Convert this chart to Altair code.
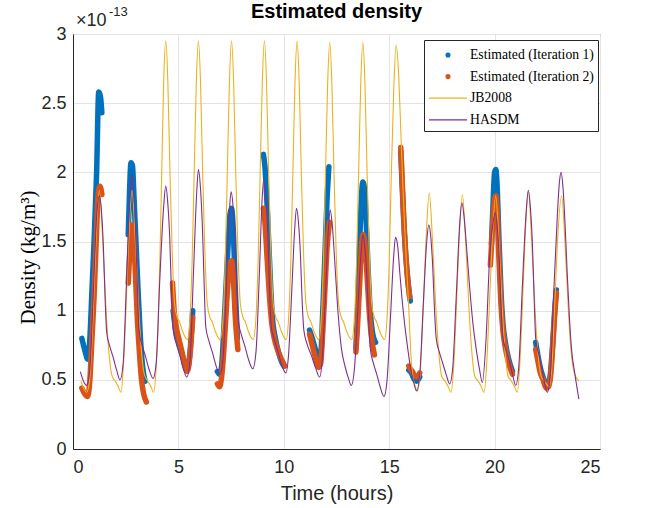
import altair as alt
import pandas as pd

SERIES = ["Estimated (Iteration 1)", "Estimated (Iteration 2)", "JB2008", "HASDM"]
COLORS = ["#0072BD", "#D95319", "#EDB120", "#7E2F8E"]

x_ticks = [0, 5, 10, 15, 20, 25]
y_ticks = [0, 0.5, 1, 1.5, 2, 2.5, 3]

# JB2008 model density (units of 1e-13 kg/m^3)
jb_t = [0.38, 0.5, 0.65, 0.74, 0.84, 0.96, 1.09, 1.25, 1.41, 1.57, 1.69, 1.85, 1.96, 2.12, 2.28,
        2.39, 2.51, 2.64, 2.8, 2.96, 3.12, 3.24, 3.4, 3.51, 3.67, 3.83,
        3.95, 4.05, 4.12, 4.21, 4.3, 4.4, 4.5, 4.6, 4.7, 4.82, 4.95, 5.05, 5.2, 5.43,
        5.55, 5.65, 5.75, 5.85, 5.95, 6.05, 6.15, 6.25, 6.37, 6.5, 6.6, 6.75, 6.98,
        7.12, 7.22, 7.32, 7.42, 7.52, 7.62, 7.72, 7.82, 7.94, 8.07, 8.17, 8.32, 8.55,
        8.68, 8.78, 8.88, 8.98, 9.08, 9.18, 9.28, 9.38, 9.5, 9.63, 9.73, 9.88, 10.11,
        10.23, 10.33, 10.43, 10.53, 10.63, 10.73, 10.83, 10.93, 11.05, 11.18, 11.28, 11.43, 11.66,
        11.78, 11.88, 11.98, 12.08, 12.18, 12.28, 12.38, 12.48, 12.6, 12.73, 12.83, 12.98, 13.22,
        13.35, 13.45, 13.55, 13.65, 13.75, 13.85, 13.95, 14.05, 14.17, 14.3, 14.4, 14.55, 14.78,
        14.9, 15.0, 15.1, 15.22, 15.33, 15.45, 15.55, 15.65, 15.75, 15.85, 15.95, 16.02, 16.1, 16.22, 16.35,
        16.49, 16.61, 16.74, 16.9, 17.06, 17.22, 17.34, 17.5, 17.61, 17.77, 17.93,
        18.06, 18.18, 18.31, 18.47, 18.63, 18.79, 18.91, 19.07, 19.18, 19.34, 19.5,
        19.62, 19.74, 19.88, 20.05, 20.21, 20.37, 20.49, 20.65, 20.76, 20.92, 21.08,
        21.19, 21.31, 21.44, 21.6, 21.76, 21.92, 22.04, 22.2, 22.31, 22.45, 22.6,
        22.72, 22.84, 22.98, 23.18, 23.34, 23.5, 23.62, 23.78, 24.0]
jb_v = [0.49, 0.44, 0.41, 0.45, 0.6, 1.0, 1.49, 1.87, 1.5, 1.0, 0.72, 0.53, 0.5, 0.46, 0.41,
        0.6, 1.0, 1.5, 1.87, 1.5, 1.0, 0.72, 0.53, 0.5, 0.46, 0.41,
        0.6, 0.95, 1.35, 2.0, 2.65, 2.95, 2.65, 2.0, 1.45, 1.05, 0.95, 0.92, 0.85, 0.79,
        0.95, 1.35, 2.0, 2.65, 2.95, 2.65, 2.0, 1.45, 1.05, 0.95, 0.92, 0.85, 0.79,
        0.95, 1.35, 2.0, 2.65, 2.95, 2.65, 2.0, 1.45, 1.05, 0.95, 0.92, 0.85, 0.79,
        0.95, 1.35, 2.0, 2.65, 2.95, 2.65, 2.0, 1.45, 1.05, 0.95, 0.92, 0.85, 0.79,
        0.95, 1.35, 2.0, 2.65, 2.95, 2.65, 2.0, 1.45, 1.05, 0.95, 0.92, 0.85, 0.79,
        0.95, 1.35, 2.0, 2.64, 2.94, 2.64, 2.0, 1.45, 1.05, 0.95, 0.92, 0.85, 0.79,
        0.95, 1.35, 2.0, 2.64, 2.94, 2.64, 2.0, 1.45, 1.05, 0.95, 0.92, 0.85, 0.79,
        0.95, 1.35, 1.98, 2.62, 2.92, 2.7, 2.3, 1.9, 1.55, 1.25, 0.95, 0.7, 0.55, 0.46, 0.42,
        0.6, 1.0, 1.49, 1.85, 1.49, 1.0, 0.72, 0.52, 0.5, 0.46, 0.41,
        0.6, 1.0, 1.49, 1.84, 1.49, 1.0, 0.72, 0.52, 0.5, 0.46, 0.41,
        0.6, 1.0, 1.49, 1.83, 1.49, 1.0, 0.72, 0.52, 0.5, 0.46, 0.41,
        0.6, 1.0, 1.5, 1.86, 1.5, 1.0, 0.72, 0.53, 0.5, 0.47, 0.45,
        0.6, 1.0, 1.49, 1.83, 1.49, 1.0, 0.72, 0.55, 0.49]

# HASDM density
hasdm_t = [0.35, 0.5, 0.65, 0.8, 0.96, 1.12, 1.25, 1.35, 1.44, 1.52, 1.6, 1.75, 1.91, 2.07, 2.23,
           2.38, 2.54, 2.7, 2.78, 2.88, 2.97, 3.05, 3.13, 3.28, 3.44, 3.6, 3.8,
           3.95, 4.11, 4.3, 4.4, 4.5, 4.59, 4.67, 4.75, 4.9, 5.06, 5.22, 5.4,
           5.55, 5.71, 5.87, 5.95, 6.05, 6.14, 6.22, 6.3, 6.45, 6.61, 6.77, 6.97,
           7.12, 7.28, 7.42, 7.5, 7.6, 7.69, 7.77, 7.85, 8.0, 8.16, 8.32, 8.53,
           8.68, 8.84, 8.97, 9.05, 9.15, 9.24, 9.32, 9.4, 9.55, 9.71, 9.87, 10.1,
           10.22, 10.38, 10.52, 10.6, 10.7, 10.79, 10.87, 10.95, 11.1, 11.3, 11.5, 11.7,
           11.82, 11.98, 12.12, 12.2, 12.3, 12.42, 12.57, 12.74, 12.9, 13.05, 13.2,
           13.35, 13.51, 13.67, 13.75, 13.85, 13.94, 14.02, 14.1, 14.25, 14.41, 14.57, 14.75,
           14.9, 15.06, 15.22, 15.3, 15.4, 15.5, 15.6, 15.72, 15.85, 16.0, 16.15, 16.3,
           16.45, 16.61, 16.78, 16.88, 16.98, 17.07, 17.15, 17.23, 17.38, 17.54, 17.7, 17.87,
           18.02, 18.18, 18.35, 18.45, 18.55, 18.65, 18.8, 18.97, 19.13, 19.29, 19.42,
           19.6, 19.76, 19.93, 20.03, 20.13, 20.22, 20.3, 20.38, 20.53, 20.69, 20.85, 21.0,
           21.15, 21.31, 21.5, 21.6, 21.7, 21.79, 21.87, 21.95, 22.1, 22.25, 22.38, 22.5,
           22.65, 22.81, 22.98, 23.07, 23.15, 23.25, 23.35, 23.45, 23.55, 23.65, 23.8, 24.0]
hasdm_v = [0.56, 0.49, 0.46, 0.58, 1.12, 1.68, 1.83, 1.72, 1.47, 1.1, 0.84, 0.74, 0.66, 0.57, 0.5,
           0.62, 1.22, 1.83, 1.98, 1.85, 1.58, 1.19, 0.86, 0.75, 0.67, 0.58, 0.51,
           0.63, 1.2, 1.75, 1.9, 1.77, 1.52, 1.14, 0.86, 0.76, 0.68, 0.59, 0.52,
           0.64, 1.25, 1.86, 2.02, 1.88, 1.6, 1.2, 0.88, 0.78, 0.7, 0.61, 0.54,
           0.66, 1.2, 1.72, 1.86, 1.74, 1.5, 1.14, 0.92, 0.82, 0.74, 0.65, 0.58,
           0.7, 1.26, 1.8, 1.95, 1.82, 1.56, 1.18, 0.89, 0.79, 0.71, 0.62, 0.55,
           0.67, 1.15, 1.6, 1.74, 1.63, 1.4, 1.07, 0.86, 0.76, 0.68, 0.59, 0.52,
           0.64, 1.12, 1.6, 1.73, 1.62, 1.35, 0.99, 0.72, 0.6, 0.52, 0.46,
           0.58, 1.0, 1.43, 1.55, 1.45, 1.25, 0.95, 0.73, 0.62, 0.54, 0.45, 0.38,
           0.5, 0.95, 1.41, 1.53, 1.47, 1.28, 1.1, 0.92, 0.76, 0.6, 0.49, 0.42,
           0.54, 1.02, 1.5, 1.62, 1.52, 1.3, 1.0, 0.8, 0.7, 0.62, 0.54, 0.47,
           0.6, 1.1, 1.64, 1.78, 1.68, 1.5, 1.2, 0.91, 0.72, 0.57, 0.48,
           0.81, 1.37, 1.64, 1.71, 1.6, 1.38, 1.05, 0.82, 0.72, 0.64, 0.54, 0.46,
           0.6, 1.15, 1.72, 1.87, 1.74, 1.5, 1.12, 0.8, 0.68, 0.57, 0.47, 0.41,
           0.55, 1.15, 1.7, 1.92, 2.0, 1.88, 1.6, 1.25, 0.95, 0.72, 0.55, 0.36]

# Estimated density, iteration 1 (one list per pass)
est1_t = [[0.42, 0.55, 0.7, 0.8, 0.9, 1.0, 1.12, 1.22, 1.3, 1.37],
          [2.62, 2.68, 2.75, 2.82, 2.9, 3.0, 3.1, 3.2, 3.3, 3.42],
          [4.75, 4.85, 5.0, 5.15, 5.3, 5.42, 5.55, 5.68],
          [6.85, 6.95, 7.05, 7.15, 7.25, 7.35, 7.45, 7.52, 7.6, 7.7, 7.8],
          [9.03, 9.1, 9.18, 9.27, 9.37, 9.45, 9.6, 9.75, 9.9, 10.0],
          [11.22, 11.35, 11.5, 11.65, 11.75, 11.85, 11.95, 12.05, 12.14],
          [13.42, 13.5, 13.58, 13.66, 13.75, 13.83, 13.92, 14.0, 14.1, 14.2, 14.35],
          [15.55, 15.6, 15.7, 15.8, 15.9, 16.0],
          [15.93, 16.05, 16.2, 16.3, 16.45],
          [19.85, 19.92, 20.0, 20.06, 20.12, 20.2, 20.3, 20.4, 20.5, 20.65, 20.85],
          [21.95, 22.05, 22.15, 22.3, 22.45, 22.55, 22.65, 22.75, 22.85, 22.93]]
est1_v = [[0.80, 0.72, 0.65, 0.8, 1.15, 1.5, 2.0, 2.58, 2.55, 2.43],
          [1.55, 1.85, 2.07, 2.05, 1.8, 1.45, 1.1, 0.8, 0.6, 0.49],
          [1.0, 0.88, 0.78, 0.7, 0.62, 0.57, 0.7, 1.0],
          [0.56, 0.54, 0.6, 0.85, 1.15, 1.45, 1.7, 1.74, 1.6, 1.15, 0.8],
          [2.13, 2.05, 1.85, 1.55, 1.2, 0.97, 0.8, 0.7, 0.63, 0.6],
          [0.86, 0.8, 0.72, 0.65, 0.68, 1.0, 1.4, 1.8, 2.04],
          [0.73, 1.0, 1.4, 1.75, 1.93, 1.88, 1.6, 1.3, 1.0, 0.85, 0.77],
          [2.15, 1.95, 1.62, 1.37, 1.2, 1.07],
          [0.57, 0.55, 0.5, 0.49, 0.52],
          [1.48, 1.75, 2.0, 2.02, 1.9, 1.55, 1.15, 0.9, 0.78, 0.66, 0.56],
          [0.77, 0.68, 0.6, 0.52, 0.47, 0.46, 0.55, 0.75, 1.0, 1.15]]

# Estimated density, iteration 2
est2_t = [[0.42, 0.55, 0.7, 0.8, 0.9, 1.0, 1.1, 1.2, 1.28, 1.37],
          [2.62, 2.7, 2.78, 2.85, 2.95, 3.05, 3.15, 3.25, 3.35, 3.48],
          [4.72, 4.8, 4.9, 5.05, 5.2, 5.3, 5.42, 5.55, 5.68],
          [6.85, 6.95, 7.05, 7.15, 7.25, 7.35, 7.45, 7.52, 7.6, 7.7, 7.82],
          [9.03, 9.1, 9.2, 9.3, 9.42, 9.55, 9.7, 9.85, 10.05],
          [11.22, 11.35, 11.5, 11.65, 11.75, 11.85, 11.95, 12.05, 12.17],
          [13.42, 13.5, 13.6, 13.68, 13.76, 13.85, 13.95, 14.05, 14.15, 14.3],
          [15.55, 15.6, 15.68, 15.78, 15.88, 15.97],
          [15.93, 16.0, 16.1, 16.2, 16.3, 16.45],
          [19.8, 19.9, 20.0, 20.06, 20.12, 20.2, 20.3, 20.4, 20.5, 20.65, 20.85],
          [21.95, 22.05, 22.15, 22.3, 22.45, 22.55, 22.65, 22.75, 22.85, 22.93]]
est2_v = [[0.44, 0.40, 0.38, 0.5, 0.8, 1.1, 1.5, 1.85, 1.9, 1.84],
          [1.2, 1.45, 1.62, 1.6, 1.3, 0.95, 0.7, 0.5, 0.4, 0.34],
          [1.2, 1.0, 0.88, 0.78, 0.68, 0.6, 0.56, 0.68, 0.95],
          [0.47, 0.45, 0.52, 0.7, 0.95, 1.2, 1.35, 1.36, 1.25, 0.95, 0.72],
          [1.74, 1.65, 1.4, 1.15, 0.92, 0.8, 0.72, 0.66, 0.6],
          [0.83, 0.75, 0.66, 0.59, 0.62, 0.85, 1.15, 1.45, 1.64],
          [0.7, 0.9, 1.2, 1.45, 1.55, 1.48, 1.25, 1.0, 0.82, 0.68],
          [2.18, 2.0, 1.7, 1.42, 1.22, 1.1],
          [0.6, 0.58, 0.56, 0.53, 0.52, 0.55],
          [1.33, 1.6, 1.8, 1.83, 1.72, 1.4, 1.05, 0.85, 0.74, 0.63, 0.54],
          [0.72, 0.64, 0.56, 0.5, 0.44, 0.45, 0.52, 0.72, 0.97, 1.13]]

exp_anchor_t = [0]
exp_anchor_v = [3]


def seg_frame(ts, vs, name):
    rows = []
    for k, (tl, vl) in enumerate(zip(ts, vs)):
        for t, v in zip(tl, vl):
            rows.append({"t": t, "v": v, "seg": k, "series": name})
    return pd.DataFrame(rows)


est1_df = seg_frame(est1_t, est1_v, SERIES[0])
est2_df = seg_frame(est2_t, est2_v, SERIES[1])
est_all = pd.concat([est1_df, est2_df], ignore_index=True)
jb_df = pd.DataFrame({"t": jb_t, "v": jb_v})
hasdm_df = pd.DataFrame({"t": hasdm_t, "v": hasdm_v})
anchor_df = pd.DataFrame({"t": exp_anchor_t, "v": exp_anchor_v})

X = alt.X("t:Q", scale=alt.Scale(domain=[0, 25], nice=False, zero=False),
          axis=alt.Axis(values=x_ticks, title="Time (hours)", titleFont="Liberation Sans",
                        titleFontSize=20, titleFontWeight="normal", titleColor="#262626",
                        titlePadding=7, labelPadding=9))
Y = alt.Y("v:Q", scale=alt.Scale(domain=[0, 3], nice=False),
          axis=alt.Axis(values=y_ticks, format="~g", title="Density (kg/m³)",
                        titleFont="Liberation Serif", titleFontSize=21, titleFontWeight="normal",
                        titleColor="#000000", titleX=-39, titleY=223, titleBaseline="alphabetic",
                        labelPadding=7))
Xs = alt.X("t:Q")
Ys = alt.Y("v:Q")

est1_line = alt.Chart(est1_df).mark_line(
    color=COLORS[0], strokeWidth=5.5, interpolate="monotone", strokeCap="round", strokeJoin="round"
).encode(x=X, y=Y, detail="seg:N")

est2_line = alt.Chart(est2_df).mark_line(
    color=COLORS[1], strokeWidth=5.5, interpolate="monotone", strokeCap="round", strokeJoin="round"
).encode(x=Xs, y=Ys, detail="seg:N")

jb_line = alt.Chart(jb_df).mark_line(color=COLORS[2], strokeWidth=1.1, interpolate="monotone").encode(x=Xs, y=Ys)
hasdm_line = alt.Chart(hasdm_df).mark_line(color=COLORS[3], strokeWidth=1.1, interpolate="monotone").encode(x=Xs, y=Ys)

DOT = ("M0.05,0A0.05,0.05 0 1,1 -0.05,0A0.05,0.05 0 1,1 0.05,0"
       "M0.12,0A0.12,0.12 0 1,1 -0.12,0A0.12,0.12 0 1,1 0.12,0"
       "M0.19,0A0.19,0.19 0 1,1 -0.19,0A0.19,0.19 0 1,1 0.19,0")
LINE = "M-1.9,0H1.9"

leg = alt.Legend(title=None, orient="none", legendX=351, legendY=6, strokeColor="#262626",
                 fillColor="#ffffff", padding=4, symbolOffset=9, labelOffset=11,
                 labelFont="Liberation Serif", labelFontSize=13.7, labelColor="#000000",
                 symbolSize=400, symbolStrokeWidth=1.3, symbolOpacity=1, rowPadding=3.6,
                 labelLimit=300)

legend_layer = alt.Chart(est_all).mark_point(filled=False, opacity=0).encode(
    x=Xs, y=Ys,
    color=alt.Color("series:N", scale=alt.Scale(domain=SERIES, range=COLORS), legend=leg),
    shape=alt.Shape("series:N", scale=alt.Scale(domain=SERIES, range=[DOT, DOT, LINE, LINE]), legend=leg),
)

exp_base = alt.Chart(anchor_df).mark_text(
    text="×10", align="left", baseline="alphabetic", dx=3, dy=-8,
    font="Liberation Sans", fontSize=18, color="#262626"
).encode(x=Xs, y=Ys)
exp_sup = alt.Chart(anchor_df).mark_text(
    text="-13", align="left", baseline="alphabetic", dx=36, dy=-18,
    font="Liberation Sans", fontSize=13, color="#262626"
).encode(x=Xs, y=Ys)

chart = alt.layer(est1_line, est2_line, jb_line, hasdm_line, legend_layer, exp_base, exp_sup).properties(
    width=527, height=415,
    title=alt.TitleParams("Estimated density", font="Liberation Sans", fontSize=20, fontWeight="bold",
                          color="#000000", anchor="middle", offset=-16),
    autosize=alt.AutoSizeParams(type="none"),
    padding={"left": 73, "top": 34, "right": 64, "bottom": 59},
).configure_view(
    stroke="#262626", strokeWidth=1
).configure_axis(
    grid=True, gridColor="#e3e3e3", gridWidth=1, ticks=False,
    domainColor="#262626", domainWidth=1,
    labelFont="Liberation Sans", labelFontSize=18, labelColor="#262626",
)

chart.save("out.html", embed_options={"renderer": "svg", "actions": False})
